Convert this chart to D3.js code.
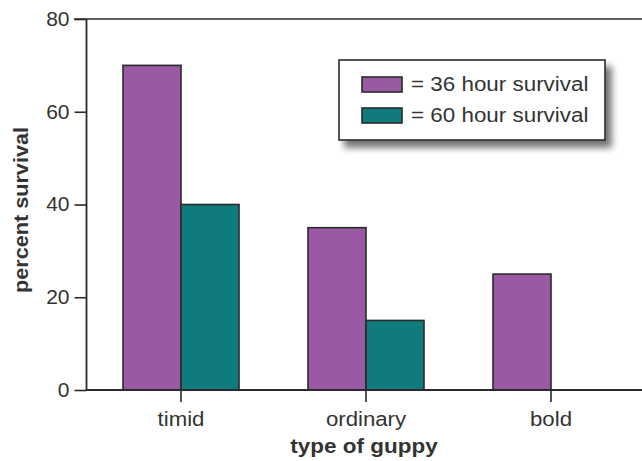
<!DOCTYPE html>
<html>
<head>
<meta charset="utf-8">
<script src="https://cdn.jsdelivr.net/npm/d3@7"></script>
<style>
html,body{margin:0;padding:0;background:#fff;}
svg{display:block;font-family:"Liberation Sans",Arial,Helvetica,sans-serif;}
</style>
</head>
<body>
<svg id="chart" width="642" height="461"></svg>
<script>
const categories = ["timid", "ordinary", "bold"];
const seriesNames = ["= 36 hour survival", "= 60 hour survival"];
const survival36 = [70, 35, 25];
const survival60 = [40, 15, 0];
const yTicks = [0, 20, 40, 60, 80];
const colors = ["#9a59a3", "#0f7b7c"];

const svg = d3.select("#chart");
const axisColor = "#2a2a2a";
const textColor = "#333";

// widen text horizontally to match the reference typeface's wider set width
function widen(sel, factor) {
  sel.each(function() {
    const len = this.getComputedTextLength();
    d3.select(this).attr("textLength", len * factor).attr("lengthAdjust", "spacingAndGlyphs");
  });
}

const y = d3.scaleLinear().domain([0, 80]).range([390, 19]);
const x = d3.scaleBand().domain(categories).range([88.5, 643.5]).padding(0);
const groupW = 116;
const xs = d3.scaleBand().domain([0, 1]).range([0, groupW]).padding(0);

const defs = svg.append("defs");
const f = defs.append("filter").attr("id", "shadow").attr("x", "-10%").attr("y", "-20%").attr("width", "130%").attr("height", "160%");
f.append("feGaussianBlur").attr("in", "SourceAlpha").attr("stdDeviation", 3.5).attr("result", "b");
f.append("feOffset").attr("in", "b").attr("dx", 6).attr("dy", 7).attr("result", "o");
f.append("feComponentTransfer").attr("in", "o").attr("result", "o2")
  .append("feFuncA").attr("type", "linear").attr("slope", 0.55);
const m = f.append("feMerge");
m.append("feMergeNode").attr("in", "o2");
m.append("feMergeNode").attr("in", "SourceGraphic");

// bars
const data = [survival36, survival60];
data.forEach((vals, si) => {
  svg.append("g").selectAll("rect")
    .data(categories.map((c, i) => ({c, v: vals[i]})).filter(d => d.v > 0))
    .join("rect")
    .attr("x", d => x(d.c) + (x.bandwidth() - groupW) / 2 + xs(si))
    .attr("y", d => y(d.v))
    .attr("width", xs.bandwidth())
    .attr("height", d => y(0) - y(d.v))
    .attr("fill", colors[si])
    .attr("stroke", axisColor)
    .attr("stroke-width", 1.6);
});

// top frame line
svg.append("line")
  .attr("x1", 74).attr("x2", 642)
  .attr("y1", y(80)).attr("y2", y(80))
  .attr("stroke", axisColor).attr("stroke-width", 1.6);

// y axis
const yAxis = d3.axisLeft(y).tickValues(yTicks).tickSize(12).tickPadding(5);
const gy = svg.append("g").attr("transform", "translate(86.5,0)").call(yAxis);
gy.select(".domain").attr("stroke", axisColor).attr("stroke-width", 1.8).attr("d", `M0,${y(80)}V${y(0)}`);
gy.selectAll(".tick line").attr("stroke", axisColor).attr("stroke-width", 1.6);
gy.selectAll(".tick text").attr("fill", textColor).attr("font-size", 20).attr("font-family", "Liberation Sans, Arial, sans-serif");
widen(gy.selectAll(".tick text"), 1.05);

// x axis
const xAxis = d3.axisBottom(x).tickSize(12).tickPadding(10);
const gx = svg.append("g").attr("transform", `translate(0,${y(0)})`).call(xAxis);
gx.select(".domain").attr("stroke", axisColor).attr("stroke-width", 1.8).attr("d", "M86,0H642");
gx.selectAll(".tick line").attr("stroke", axisColor).attr("stroke-width", 1.6);
gx.selectAll(".tick text").attr("fill", textColor).attr("font-size", 20).attr("font-family", "Liberation Sans, Arial, sans-serif");
widen(gx.selectAll(".tick text"), 1.11);

// axis titles
const yTitle = svg.append("text")
  .attr("transform", `translate(28,210) rotate(-90)`)
  .attr("text-anchor", "middle")
  .attr("font-size", 21).attr("font-weight", "bold").attr("fill", textColor)
  .text("percent survival");
widen(yTitle, 1.03);
const xTitle = svg.append("text")
  .attr("x", 364).attr("y", 453)
  .attr("text-anchor", "middle")
  .attr("font-size", 21).attr("font-weight", "bold").attr("fill", textColor)
  .text("type of guppy");
widen(xTitle, 1.07);

// legend
const lg = svg.append("g");
lg.append("rect")
  .attr("x", 339).attr("y", 60).attr("width", 266).attr("height", 80)
  .attr("fill", "#fff").attr("stroke", axisColor).attr("stroke-width", 1.6)
  .attr("filter", "url(#shadow)");
seriesNames.forEach((name, i) => {
  const yy = 77 + i * 31;
  lg.append("rect").attr("x", 362).attr("y", yy).attr("width", 40).attr("height", 15)
    .attr("fill", colors[i]).attr("stroke", axisColor).attr("stroke-width", 1.6);
  const t = lg.append("text").attr("x", 411).attr("y", yy + 13.5)
    .attr("font-size", 20).attr("fill", textColor)
    .text(name);
  widen(t, 1.12);
});
</script>
</body>
</html>
